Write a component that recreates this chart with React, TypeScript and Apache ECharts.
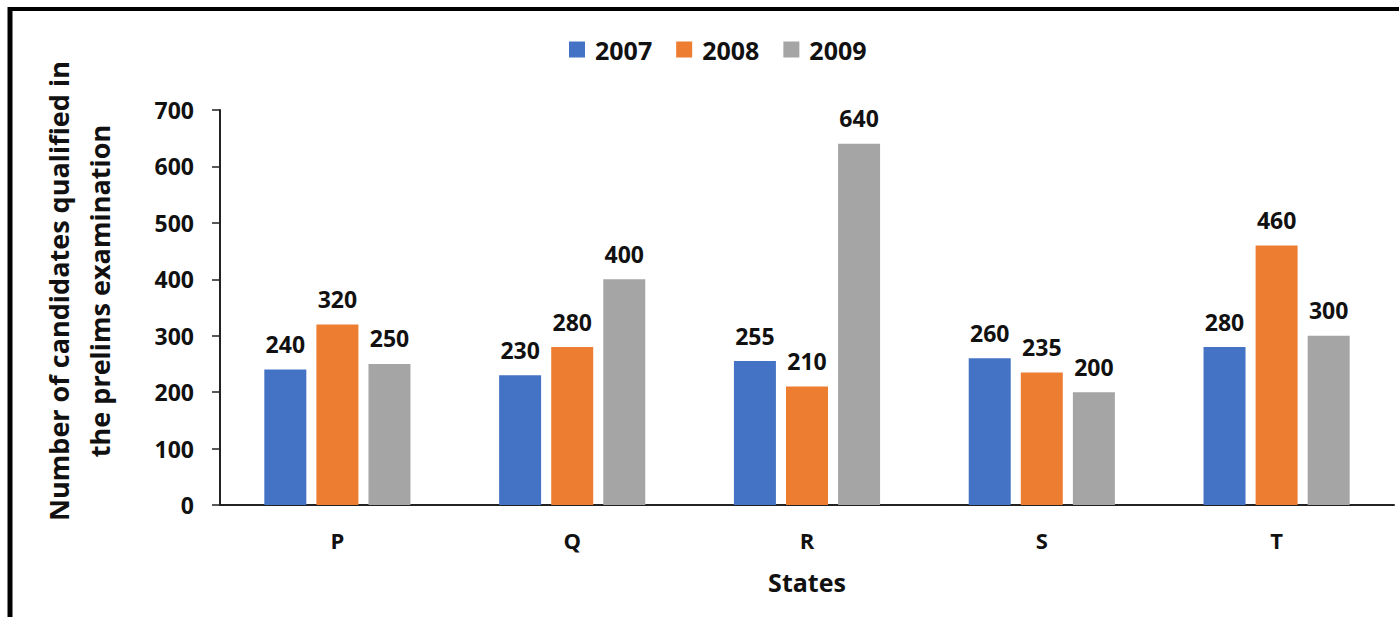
import React, { useEffect, useRef } from "react";
import * as echarts from "echarts";

const states = ["P", "Q", "R", "S", "T"];
const years = ["2007", "2008", "2009"];
const values2007 = [240, 230, 255, 260, 280];
const values2008 = [320, 280, 210, 235, 460];
const values2009 = [250, 400, 640, 200, 300];
const yTicks = { min: 0, max: 700, interval: 100 };
const colors = ["#4472C4", "#ED7D31", "#A5A5A5"];
const yTitle = "Number of candidates qualified in\nthe prelims examination";
const xTitle = "States";

const FONT = "'Open Sans', 'Noto Sans', sans-serif";

export default function App() {
  const ref = useRef<HTMLDivElement>(null);
  useEffect(() => {
    if (!ref.current) return;
    const chart = echarts.init(ref.current, undefined, { renderer: "svg" });
    const seriesData = [values2007, values2008, values2009];
    chart.setOption({
      animation: false,
      backgroundColor: "#ffffff",
      textStyle: { fontFamily: FONT },
      legend: {
        data: years,
        left: 564,
        top: 32,
        itemWidth: 16,
        itemHeight: 16,
        itemGap: 24,
        icon: "rect",
        textStyle: {
          fontFamily: FONT,
          fontWeight: "bold",
          fontSize: 25,
          color: "#111",
          padding: [0, 0, 0, 5],
        },
      },
      grid: { left: 220, right: 5, top: 110, bottom: 112, containLabel: false },
      xAxis: {
        type: "category",
        data: states,
        name: xTitle,
        nameLocation: "middle",
        nameGap: 64,
        nameTextStyle: { fontFamily: FONT, fontWeight: "bold", fontSize: 25, color: "#111" },
        axisLine: { lineStyle: { color: "#222", width: 2 } },
        axisTick: { show: false },
        axisLabel: { margin: 24, fontFamily: FONT, fontWeight: "bold", fontSize: 22, color: "#111" },
        splitLine: { show: false },
      },
      yAxis: {
        type: "value",
        min: yTicks.min,
        max: yTicks.max,
        interval: yTicks.interval,
        axisLine: { show: true, lineStyle: { color: "#222", width: 2 } },
        axisTick: { show: true, length: 8, lineStyle: { color: "#222", width: 1.5 } },
        axisLabel: { margin: 26, fontFamily: FONT, fontWeight: "bold", fontSize: 23, color: "#111" },
        splitLine: { show: false },
      },
      series: years.map((y, i) => ({
        name: y,
        type: "bar",
        data: seriesData[i],
        barWidth: 42,
        barGap: "24%",
        itemStyle: { color: colors[i] },
        label: {
          show: true,
          position: "top",
          distance: 14,
          fontFamily: FONT,
          fontWeight: "bold",
          fontSize: 23,
          color: "#111",
        },
      })),
      graphic: [
        {
          type: "text",
          x: 79,
          y: 291,
          rotation: Math.PI / 2,
          silent: true,
          style: {
            text: yTitle,
            fontFamily: FONT,
            fontWeight: "bold",
            fontSize: 27,
            lineHeight: 41,
            fill: "#111",
            textAlign: "center",
            textVerticalAlign: "middle",
          },
        },
        {
          type: "line",
          shape: { x1: 8, y1: 9, x2: 1399, y2: 9 },
          style: { stroke: "#000", lineWidth: 4 },
          silent: true,
        },
        {
          type: "line",
          shape: { x1: 10, y1: 7, x2: 10, y2: 617 },
          style: { stroke: "#000", lineWidth: 5 },
          silent: true,
        },
      ],
    });
    return () => chart.dispose();
  }, []);
  return (
    <div
      ref={ref}
      style={{ position: "absolute", left: 0, top: 0, width: 1399, height: 617 }}
    />
  );
}
